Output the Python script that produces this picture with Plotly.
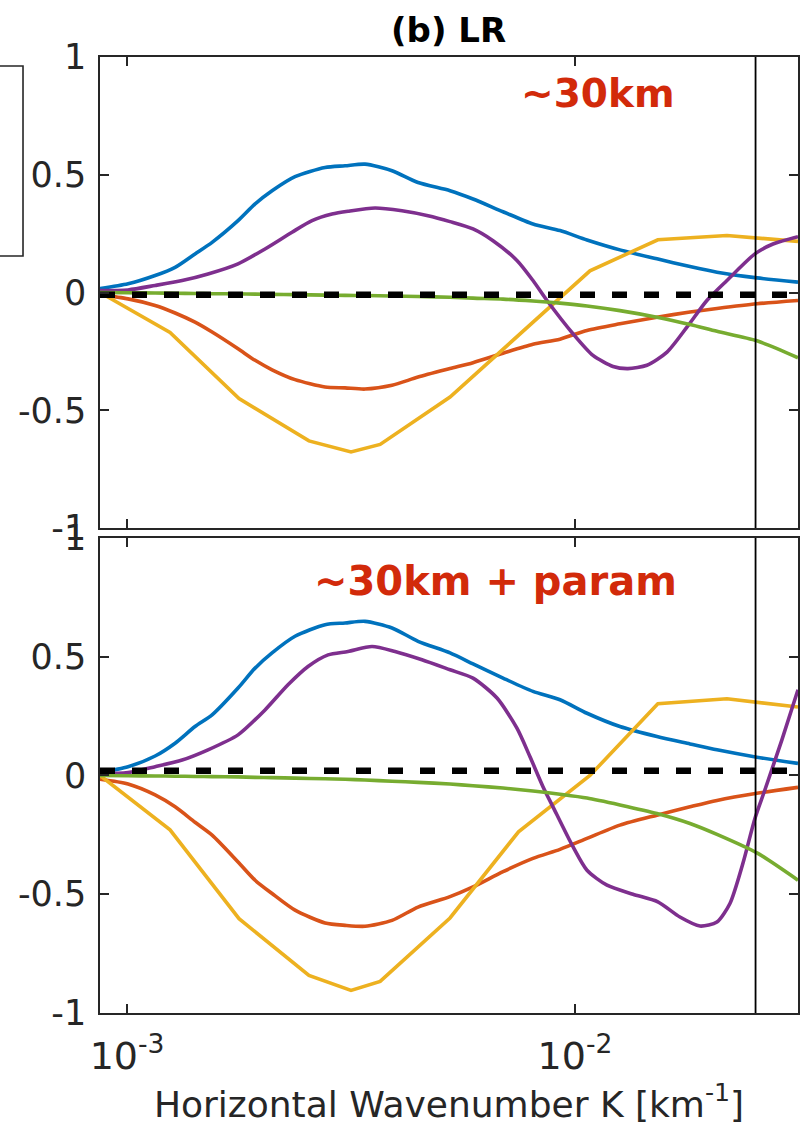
import math
import plotly.graph_objects as go

# ---------------- data ----------------
K_SMOOTH = [8.70e-4, 1.005e-3, 1.155e-3, 1.280e-3, 1.418e-3, 1.548e-3, 1.769e-3, 1.931e-3,
            2.107e-3, 2.371e-3, 2.767e-3, 3.066e-3, 3.398e-3, 3.904e-3, 4.463e-3, 5.260e-3,
            5.920e-3, 6.908e-3, 8.057e-3, 9.258e-3, 1.0636e-2, 1.260e-2, 1.524e-2, 1.806e-2,
            2.075e-2, 2.548e-2, 3.147e-2]

top_blue = [0.017, 0.037, 0.072, 0.107, 0.164, 0.213, 0.305, 0.376, 0.432, 0.492, 0.531, 0.538,
            0.545, 0.517, 0.467, 0.432, 0.397, 0.343, 0.291, 0.263, 0.223, 0.181, 0.143, 0.110,
            0.086, 0.062, 0.044]
top_orange = [-0.010, -0.027, -0.055, -0.087, -0.126, -0.168, -0.239, -0.288, -0.328, -0.370,
              -0.401, -0.405, -0.410, -0.394, -0.359, -0.323, -0.298, -0.258, -0.220, -0.198,
              -0.161, -0.133, -0.105, -0.083, -0.068, -0.048, -0.034]
top_green = [0.0, -0.001, -0.002, -0.003, -0.004, -0.005, -0.006, -0.007, -0.008, -0.009,
             -0.011, -0.012, -0.013, -0.015, -0.017, -0.020, -0.024, -0.028, -0.036, -0.045,
             -0.057, -0.077, -0.105, -0.136, -0.165, -0.205, -0.277]

bot_blue = [0.013, 0.037, 0.082, 0.136, 0.206, 0.255, 0.368, 0.452, 0.516, 0.586, 0.635, 0.642,
            0.649, 0.621, 0.565, 0.516, 0.470, 0.410, 0.354, 0.319, 0.262, 0.206, 0.164, 0.133,
            0.108, 0.077, 0.051]
bot_orange = [-0.016, -0.036, -0.082, -0.132, -0.197, -0.251, -0.364, -0.441, -0.497, -0.567,
              -0.621, -0.631, -0.635, -0.610, -0.554, -0.510, -0.469, -0.405, -0.349, -0.311,
              -0.265, -0.209, -0.167, -0.132, -0.105, -0.075, -0.050]
bot_green = [0.0, -0.001, -0.002, -0.003, -0.004, -0.005, -0.006, -0.008, -0.009, -0.011,
             -0.014, -0.016, -0.019, -0.024, -0.029, -0.036, -0.043, -0.053, -0.065, -0.079,
             -0.095, -0.124, -0.160, -0.202, -0.248, -0.326, -0.441]

K_PURPLE_TOP = [8.70e-4, 1.005e-3, 1.155e-3, 1.327e-3, 1.516e-3, 1.769e-3, 2.032e-3, 2.335e-3,
                2.588e-3, 2.868e-3, 3.113e-3, 3.578e-3, 4.109e-3, 4.697e-3, 5.260e-3, 5.920e-3,
                6.561e-3, 7.42e-3, 8.057e-3, 8.66e-3, 9.897e-3, 1.0968e-2, 1.216e-2, 1.3128e-2,
                1.4475e-2, 1.605e-2, 1.778e-2, 1.970e-2, 2.184e-2, 2.522e-2, 2.767e-2, 3.147e-2]
top_purple = [0.008, 0.011, 0.030, 0.051, 0.079, 0.122, 0.185, 0.256, 0.305, 0.333, 0.345, 0.359,
              0.347, 0.326, 0.301, 0.270, 0.220, 0.136, 0.051, -0.034, -0.175, -0.267, -0.314,
              -0.323, -0.309, -0.253, -0.147, -0.034, 0.051, 0.164, 0.206, 0.237]

K_PURPLE_BOT = [8.70e-4, 1.005e-3, 1.155e-3, 1.327e-3, 1.516e-3, 1.769e-3, 2.032e-3, 2.287e-3,
                2.535e-3, 2.810e-3, 3.113e-3, 3.523e-3, 3.965e-3, 4.554e-3, 5.260e-3, 5.920e-3,
                6.697e-3, 7.42e-3, 7.935e-3, 8.482e-3, 8.93e-3, 9.897e-3, 1.0636e-2, 1.179e-2,
                1.3471e-2, 1.531e-2, 1.715e-2, 1.901e-2, 2.075e-2, 2.218e-2, 2.371e-2, 2.522e-2,
                2.654e-2, 2.897e-2, 3.147e-2]
bot_purple = [0.006, 0.012, 0.037, 0.065, 0.108, 0.171, 0.276, 0.382, 0.459, 0.508, 0.522, 0.543,
              0.522, 0.487, 0.445, 0.410, 0.326, 0.199, 0.079, -0.047, -0.132, -0.300, -0.399,
              -0.462, -0.500, -0.532, -0.596, -0.634, -0.617, -0.539, -0.370, -0.181, -0.061,
              0.150, 0.361]

K_YELLOW = [8.70e-4, 1.247e-3, 1.778e-3, 2.547e-3, 3.162e-3, 3.673e-3, 5.260e-3, 7.48e-3,
            1.080e-2, 1.531e-2, 2.184e-2, 3.147e-2]
top_yellow = [0.0, -0.170, -0.450, -0.630, -0.677, -0.645, -0.444, -0.180, 0.092, 0.224, 0.242, 0.217]
bot_yellow = [0.0, -0.229, -0.603, -0.842, -0.905, -0.867, -0.600, -0.237, 0.000, 0.302, 0.323, 0.288]

ZERO_TOP = -0.01
ZERO_BOT = 0.02
K_CUT = 0.0253
K_MIN, K_MAX = K_SMOOTH[0], K_SMOOTH[-1]

Y_TICKS = [-1, -0.5, 0, 0.5, 1]
Y_TICK_TEXT = ["-1", "-0.5", "0", "0.5", "1"]
X_TICKS = [1e-3, 1e-2]
X_TICK_TEXT = ["10<sup>-3</sup>", "10<sup>-2</sup>"]

TITLE = "<b>(b) LR</b>"
LABEL_TOP = "<b>~30km</b>"
LABEL_BOT = "<b>~30km + param</b>"
X_TITLE = "Horizontal Wavenumber K [km<sup>-1</sup>]"

# ---------------- styles ----------------
C_BLUE, C_ORANGE, C_YELLOW, C_PURPLE, C_GREEN = "#0072BD", "#D95319", "#EDB120", "#7E2F8E", "#77AC30"
AX = "#262626"
RED = "#D22A0A"
FONT = "DejaVu Sans"
LW = 3.6

fig = go.Figure()


def add_line(k, v, color, xa, ya, width=LW, dash=None, smooth=True):
    line = dict(color=color, width=width, dash=dash)
    if smooth:
        line.update(shape="spline", smoothing=0.7)
    fig.add_trace(go.Scatter(x=k, y=v, mode="lines", xaxis=xa, yaxis=ya, line=line,
                             hoverinfo="skip", showlegend=False))


for xa, ya, blue, orange, yellow, purple, kp, green, zero in [
    ("x", "y", top_blue, top_orange, top_yellow, top_purple, K_PURPLE_TOP, top_green, ZERO_TOP),
    ("x2", "y2", bot_blue, bot_orange, bot_yellow, bot_purple, K_PURPLE_BOT, bot_green, ZERO_BOT),
]:
    add_line(K_SMOOTH, blue, C_BLUE, xa, ya)
    add_line(K_SMOOTH, orange, C_ORANGE, xa, ya)
    add_line(K_YELLOW, yellow, C_YELLOW, xa, ya, smooth=False)
    add_line(kp, purple, C_PURPLE, xa, ya)
    add_line(K_SMOOTH, green, C_GREEN, xa, ya)
    add_line([K_MIN, K_MAX], [zero, zero], "black", xa, ya, width=6.5, dash="15px,17px", smooth=False)

xrange = [math.log10(K_MIN), math.log10(K_MAX)]
common_x = dict(type="log", range=xrange, showgrid=False, zeroline=False,
                showline=True, linecolor=AX, linewidth=1.6, mirror="ticks",
                ticks="inside", ticklen=9, tickwidth=1.6, tickcolor=AX,
                tickvals=X_TICKS, ticktext=X_TICK_TEXT,
                tickfont=dict(family=FONT, size=38, color=AX))
common_y = dict(range=[-1, 1], showgrid=False, zeroline=False,
                showline=True, linecolor=AX, linewidth=1.6, mirror="ticks",
                ticks="inside", ticklen=9, tickwidth=1.6, tickcolor=AX,
                tickvals=Y_TICKS, ticktext=Y_TICK_TEXT, ticklabelstandoff=5,
                tickfont=dict(family=FONT, size=35, color=AX))

fig.update_layout(
    width=802, height=1127,
    margin=dict(l=100, r=4, t=57, b=114, autoexpand=False),
    paper_bgcolor="white", plot_bgcolor="white",
    showlegend=False,
    xaxis=dict(common_x, domain=[0, 1], anchor="y", showticklabels=False),
    yaxis=dict(common_y, domain=[0.5073, 1], anchor="x"),
    xaxis2=dict(common_x, domain=[0, 1], anchor="y2", showticklabels=True,
                ticklabelstandoff=9,
                title=dict(text=X_TITLE, font=dict(family=FONT, size=36, color=AX), standoff=8)),
    yaxis2=dict(common_y, domain=[0, 0.4969], anchor="x2"),
    font=dict(family=FONT, color=AX),
)

fig.add_annotation(text=TITLE, xref="paper", yref="paper", x=0.4986, y=1.028,
                   xanchor="center", yanchor="middle", showarrow=False,
                   font=dict(family=FONT, size=34, color="black"))
fig.add_annotation(text=LABEL_TOP, xref="paper", yref="paper", x=0.7135, y=0.962,
                   xanchor="center", yanchor="middle", showarrow=False,
                   font=dict(family=FONT, size=39, color=RED))
fig.add_annotation(text=LABEL_BOT, xref="paper", yref="paper", x=0.566, y=0.452,
                   xanchor="center", yanchor="middle", showarrow=False,
                   font=dict(family=FONT, size=40, color=RED))

# cut-off wavenumber line in both panels
for xa, ya in [("x", "y"), ("x2", "y2")]:
    fig.add_shape(type="line", xref=xa, yref=ya + " domain", x0=K_CUT, x1=K_CUT, y0=0, y1=1,
                  line=dict(color="black", width=1.8))

# partial legend frame from the neighbouring panel, cut by the figure edge
fig.add_shape(type="rect", xref="paper", yref="paper", x0=-0.18, x1=-0.1103, y0=0.7918, y1=0.9906,
              line=dict(color=AX, width=1.6), fillcolor="rgba(0,0,0,0)")

fig.write_html("out.html")
